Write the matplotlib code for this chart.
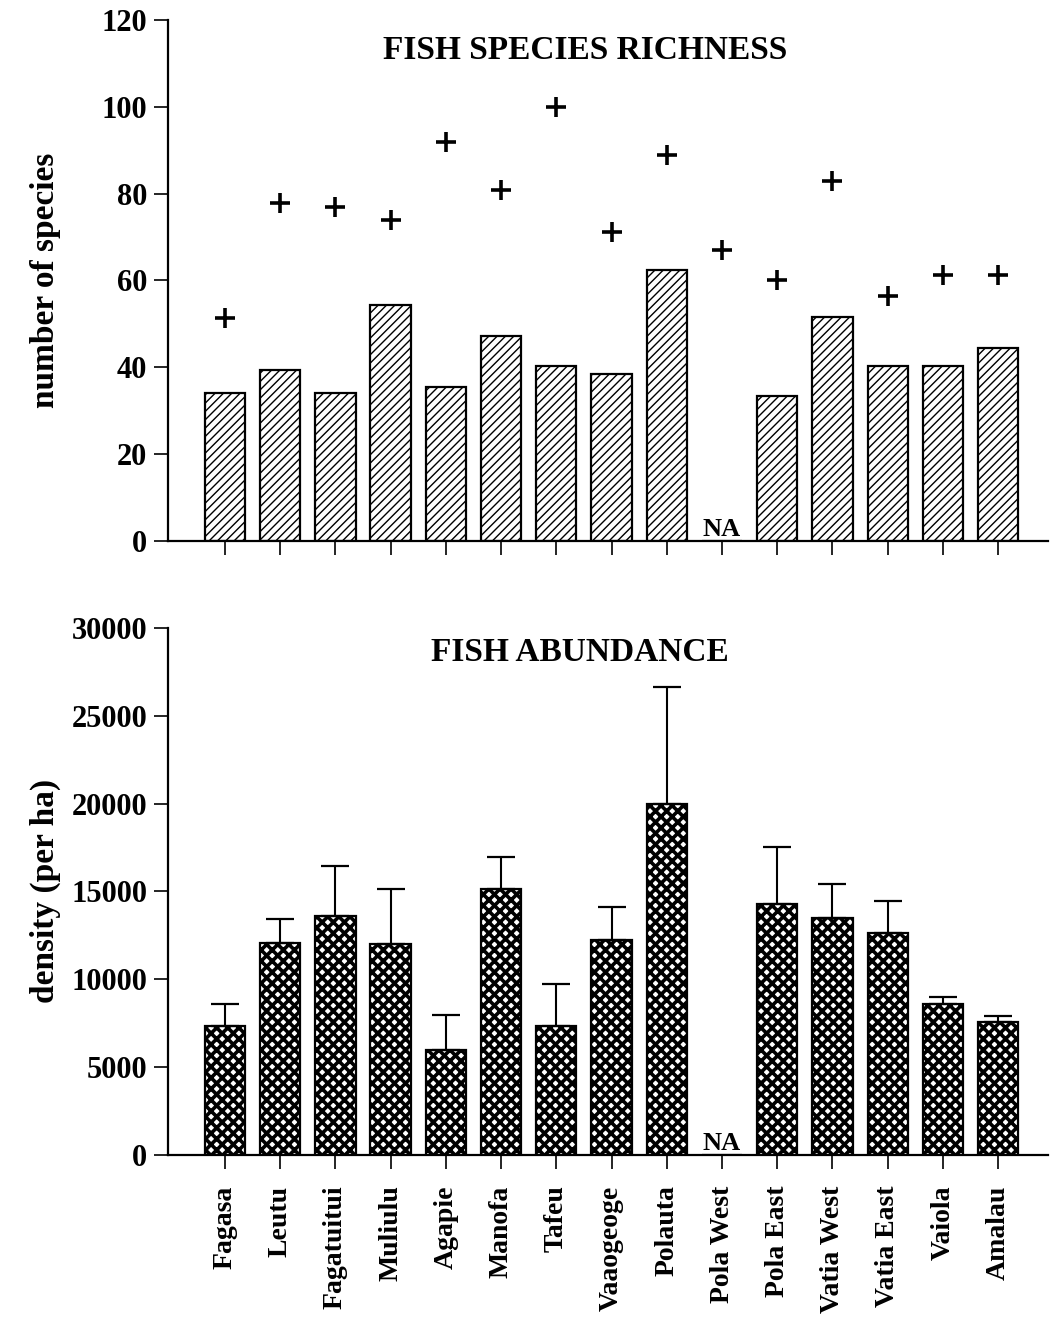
import matplotlib.pyplot as plt
import numpy as np

plt.rcParams.update({
    'font.family': 'Liberation Serif',
    'font.weight': 'bold',
    'axes.labelweight': 'bold',
    'font.size': 18,
    'axes.linewidth': 1.6,
    'hatch.linewidth': 1.0,
    'xtick.major.width': 1.2,
    'ytick.major.width': 1.2,
})

sites = ['Fagasa', 'Leutu', 'Fagatuitui', 'Muliulu', 'Agapie', 'Manofa', 'Tafeu',
         'Vaaogeoge', 'Polauta', 'Pola West', 'Pola East', 'Vatia West',
         'Vatia East', 'Vaiola', 'Amalau']

# species richness: bars = surveyed, + = total recorded
richness = [34, 39.3, 34, 54.4, 35.5, 47.3, 40.2, 38.4, 62.3, np.nan, 33.4, 51.5, 40.4, 40.4, 44.5]
richness_total = [51.3, 77.9, 76.9, 74, 91.8, 80.8, 100, 71.2, 88.9, 67.1, 60.2, 83, 56.5, 61.2, 61.2]

# abundance (per ha) and upper error
density = [7350, 12040, 13610, 12000, 5960, 15140, 7350, 12250, 20000, np.nan, 14290, 13510, 12630, 8570, 7590]
density_err = [1220, 1390, 2860, 3140, 2000, 1800, 2390, 1880, 6610, np.nan, 3260, 1940, 1800, 410, 310]

x = np.arange(len(sites))
w = 0.73

fig = plt.figure(figsize=(10.5, 13.21), dpi=100)
ax1 = fig.add_axes([0.16, 0.5905, 0.838, 0.3944])
ax2 = fig.add_axes([0.16, 0.1257, 0.838, 0.399])

for ax in (ax1, ax2):
    ax.spines['top'].set_visible(False)
    ax.spines['right'].set_visible(False)
    ax.set_xlim(-1.03, 14.9)
    ax.tick_params(axis='y', length=10, direction='out', labelsize=22, pad=5)
    ax.tick_params(axis='x', length=10, direction='out', pad=12)
    ax.set_xticks(x)

ax1.bar(x, np.nan_to_num(richness), w, color='white', edgecolor='black',
        hatch='////', linewidth=1.6)
ax1.plot(x, richness_total, '+', color='black', markersize=14, markeredgewidth=2.6)
ax1.set_ylim(0, 120)
ax1.set_yticks(np.arange(0, 121, 20))
ax1.set_xticklabels([])
ax1.set_ylabel('number of species', fontsize=24)
ax1.yaxis.set_label_coords(-0.122, 0.5)
ax1.text(0.474, 0.942, 'FISH SPECIES RICHNESS', transform=ax1.transAxes,
         ha='center', va='center', fontsize=24)
ax1.text(9, 0, 'NA', ha='center', va='bottom', fontsize=19)

plt.rcParams['hatch.linewidth'] = 2.6
ax2.bar(x, np.nan_to_num(density), w, color='white', edgecolor='black',
        hatch='xxx', linewidth=1.6)
ax2.errorbar(x, density, yerr=[np.zeros(len(x)), density_err], fmt='none',
             ecolor='black', elinewidth=1.5, capsize=10, capthick=1.6)
ax2.set_ylim(0, 30000)
ax2.set_yticks(np.arange(0, 30001, 5000))
ax2.set_xticklabels(sites, rotation=90, fontsize=20)
ax2.set_ylabel('density (per ha)', fontsize=24)
ax2.yaxis.set_label_coords(-0.122, 0.5)
ax2.text(0.468, 0.953, 'FISH ABUNDANCE', transform=ax2.transAxes,
         ha='center', va='center', fontsize=24)
ax2.text(9, 0, 'NA', ha='center', va='bottom', fontsize=19)

fig.savefig('out.png', dpi=100)
